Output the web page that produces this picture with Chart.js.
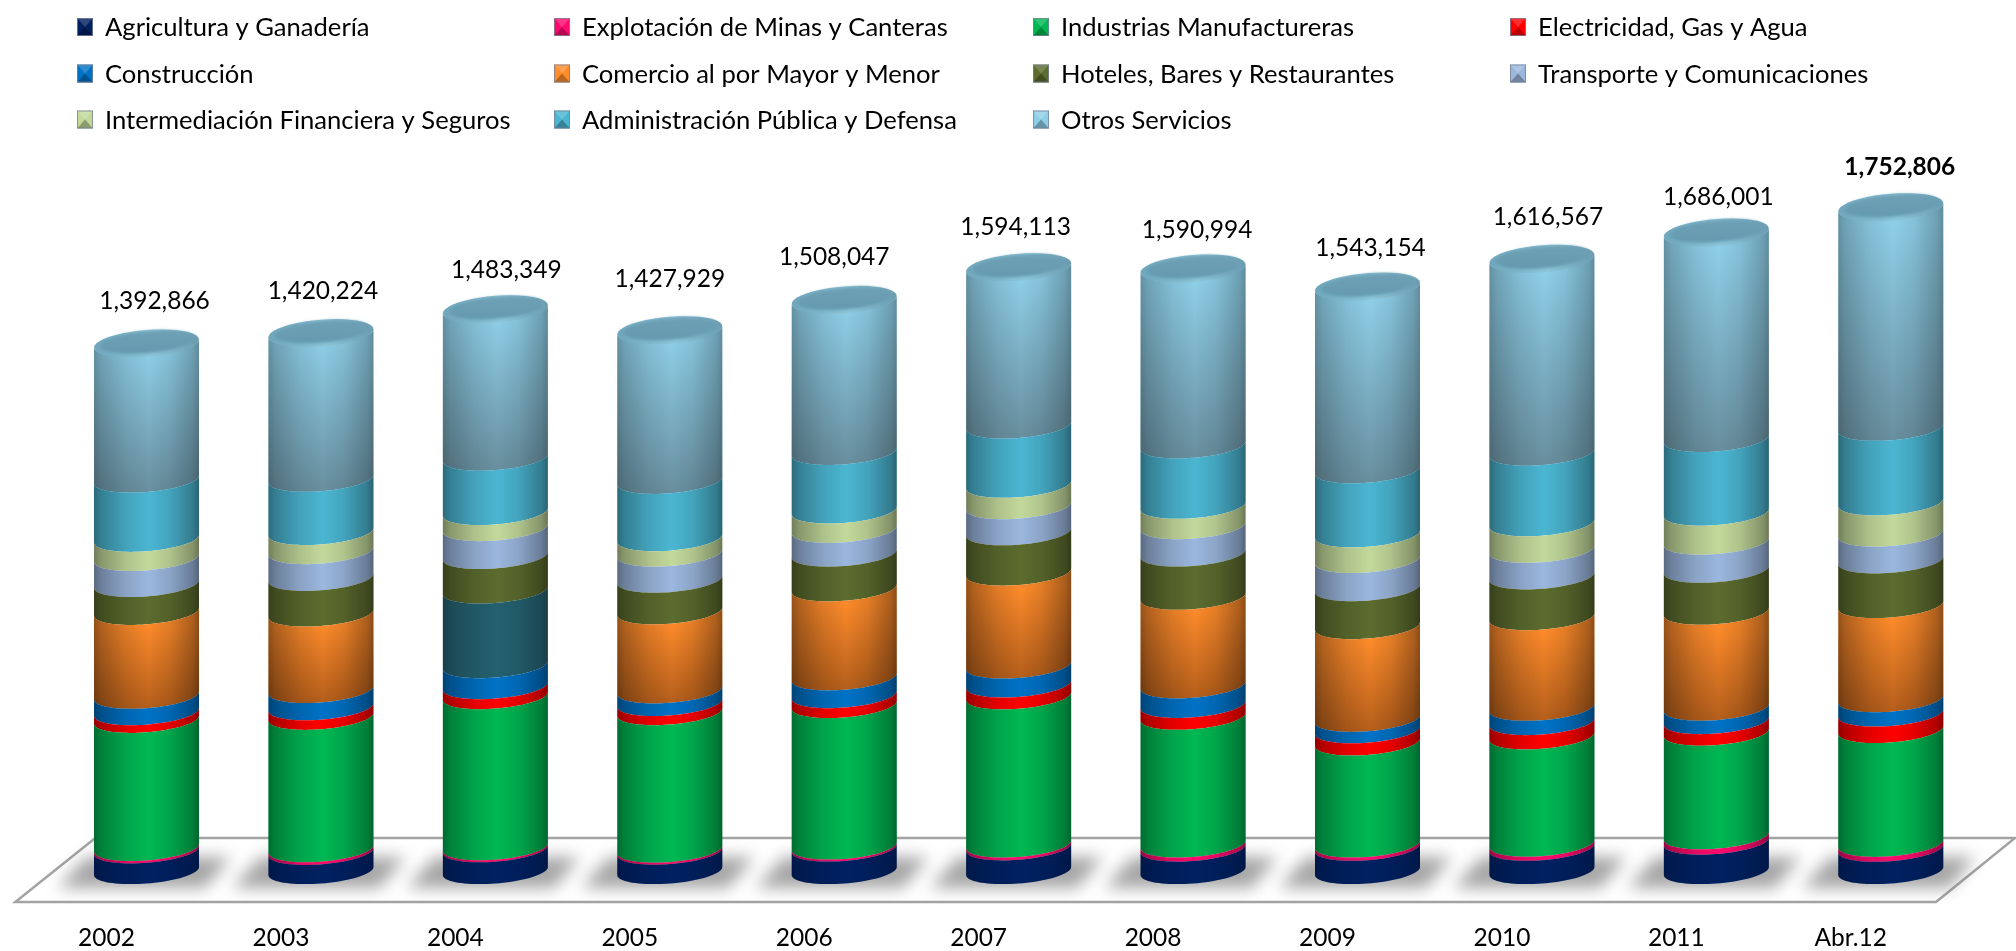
<!DOCTYPE html>
<html><head><meta charset="utf-8">
<style>html,body{margin:0;padding:0;background:#fff}#w{width:2016px;height:951px}</style>
<script src="https://cdn.jsdelivr.net/npm/chart.js@4/dist/chart.umd.js"></script>
</head><body><div id="w"><canvas id="c" width="2016" height="951"></canvas></div>
<script>
const categories=['2002','2003','2004','2005','2006','2007','2008','2009','2010','2011','Abr.12'];
const totals=[1392866,1420224,1483349,1427929,1508047,1594113,1590994,1543154,1616567,1686001,1752806];
const seriesNames=['Agricultura y Ganadería','Explotación de Minas y Canteras','Industrias Manufactureras','Electricidad, Gas y Agua','Construcción','Comercio al por Mayor y Menor','Hoteles, Bares y Restaurantes','Transporte y Comunicaciones','Intermediación Financiera y Seguros','Administración Pública y Defensa','Otros Servicios'];
const agricultura=[54600,50500,57600,51200,59500,62600,59300,61400,61400,77800,58900];
const minas=[6100,7100,5100,5200,5200,7300,10800,8600,10800,14100,13000];
const industrias=[338600,349700,399200,363300,373800,391500,337300,269500,283500,273500,300600];
const electricidad=[20200,25300,26300,24000,26100,31300,31300,32300,37700,30600,43600];
const construccion=[43500,45500,55600,33400,47000,50100,51700,30200,37700,35400,37700];
const comercio=[221300,202100,197100,208800,234900,245400,233900,244700,239300,253400,248700];
const hoteles=[73800,94000,91000,83500,91900,106500,114200,100200,107800,110800,117900];
const transporte=[68700,70700,73800,68900,62600,68900,72200,74400,70100,74300,70700];
const intermediacion=[50500,50500,42400,40700,51200,56400,53900,67900,70100,76600,82500];
const administracion=[156600,140500,143500,151400,154500,156600,159500,169200,186500,194500,196900];
const otros=[358966,384324,391749,397529,401347,417513,466894,484754,511667,545001,582306];
const seriesValues=[agricultura,minas,industrias,electricidad,construccion,comercio,hoteles,transporte,intermediacion,administracion,otros];
const seriesColors=['#002060','#FF0A6E','#00B853','#FF0000','#0072C6','#FF8C2B','#5C6C2E','#9BB7DE','#C3D99B','#4BB6D2','#8ECFE8'];
const comercioOverride='#24606F';
const labelNudgeX=[8,2,11,0,-10,-3,4,3,6,2,9];
const labelNudgeY=[-42.5,-42,-39,-51,-43,-40,-38.5,-39,-42,-35.5,-40];
const legendColX=[77,554,1033,1510], legendRowY=[28,74.5,120.5];
const FONT='Lato, Carlito, sans-serif';
const RY=12.5, TILT=4;

function rim(path,cx,hw,yc,from,to,first,ry,tilt){
  const n=40;
  for(let i=0;i<=n;i++){
    const a=from+(to-from)*i/n, x=cx+hw*Math.cos(a), y=yc+ry*Math.sin(a)-tilt*Math.cos(a);
    if(i===0&&first) path.moveTo(x,y); else path.lineTo(x,y);
  }
}
function edgeGrad(ctx,l,r,k){
  const g=ctx.createLinearGradient(l,0,r,0);
  g.addColorStop(0,`rgba(0,0,0,${.42*k})`);
  g.addColorStop(.07,`rgba(0,0,0,${.30*k})`);
  g.addColorStop(.3,`rgba(0,0,0,${.11*k})`);
  g.addColorStop(.52,'rgba(0,0,0,0)');
  g.addColorStop(.72,`rgba(0,0,0,${.10*k})`);
  g.addColorStop(.94,`rgba(0,0,0,${.32*k})`);
  g.addColorStop(1,`rgba(0,0,0,${.45*k})`);
  return g;
}
const barDraw=function(ctx){
  const {x,y,base,width}=this, hw=width/2, col=this.options.backgroundColor;
  const p=new Path2D();
  rim(p,x,hw,y,0,Math.PI,true,RY,TILT);
  rim(p,x,hw,base,Math.PI,0,false,RY,TILT);
  p.closePath();
  ctx.save();
  ctx.fillStyle=col; ctx.fill(p);
  const top=y-RY, bot=base+RY;
  if(col==='#FF8C2B'){
    const g=ctx.createLinearGradient(0,top,0,bot);
    g.addColorStop(0,'rgba(60,20,0,0)');g.addColorStop(.25,'rgba(60,20,0,0.02)');g.addColorStop(1,'rgba(60,20,0,0.38)');
    ctx.fillStyle=g;ctx.fill(p);
  }
  if(col==='#8ECFE8'){
    const g=ctx.createLinearGradient(0,top,0,bot);
    g.addColorStop(0,'rgba(90,118,130,0)');g.addColorStop(.12,'rgba(90,118,130,0)');g.addColorStop(1,'rgba(90,118,130,0.72)');
    ctx.fillStyle=g;ctx.fill(p);
  }
  const k=col==='#24606F'?.8:col==='#8ECFE8'?.72:col==='#002060'?.6:1;
  ctx.fillStyle=edgeGrad(ctx,x-hw,x+hw,k);ctx.fill(p);
  ctx.restore();
};
Chart.BarElement.prototype.draw=barDraw;

const furniture={
  id:'furniture',
  beforeDatasetsDraw(chart){
    const ctx=chart.ctx,sx=chart.scales.x,sy=chart.scales.y,y0=sy.getPixelForValue(0);
    const fy=y0+31,by=y0-33;
    ctx.save();
    ctx.beginPath();
    ctx.moveTo(sx.left-44,fy);ctx.lineTo(sx.right-42,fy);ctx.lineTo(sx.right+37,by);ctx.lineTo(sx.left+36,by);ctx.closePath();
    ctx.fillStyle='#fff';ctx.fill();
    ctx.strokeStyle='#A3A3A3';ctx.lineWidth=2.5;ctx.stroke();
    ctx.filter='blur(8px)';
    ctx.fillStyle='rgba(110,110,110,0.62)';
    chart.getDatasetMeta(0).data.forEach(b=>{
      const l=b.x-b.width/2,r=b.x+b.width/2;
      ctx.beginPath();
      ctx.moveTo(l-36,y0+17);ctx.lineTo(r+6,y0+17);ctx.lineTo(r+32,y0-14);ctx.lineTo(l-8,y0-14);ctx.closePath();
      ctx.fill();
    });
    ctx.restore();
  },
  afterDatasetsDraw(chart){
    const ctx=chart.ctx,sy=chart.scales.y,last=chart.data.datasets.length-1;
    chart.getDatasetMeta(last).data.forEach((b,i)=>{
      const hw=b.width/2;
      const o=new Path2D();rim(o,b.x,hw,b.y,0,2*Math.PI,true,RY+1,TILT);o.closePath();
      const g=ctx.createLinearGradient(b.x-hw,0,b.x+hw,0);
      g.addColorStop(0,'#6FA6BC');g.addColorStop(.55,'#8CC6DA');g.addColorStop(1,'#6B9DB1');
      ctx.fillStyle=g;ctx.fill(o);
      const n=new Path2D();rim(n,b.x+1,hw*.9,b.y-1.5,0,2*Math.PI,true,RY-1.5,TILT);n.closePath();
      const h=ctx.createLinearGradient(0,b.y-RY,0,b.y+RY);
      h.addColorStop(0,'#6FA0B5');h.addColorStop(1,'#6299AE');
      ctx.save();ctx.filter='blur(1.5px)';ctx.fillStyle=h;ctx.fill(n);ctx.restore();
      ctx.fillStyle='#000';ctx.textAlign='center';ctx.textBaseline='middle';
      ctx.font=(i===totals.length-1?'bold ':'')+'24.5px '+FONT;
      ctx.fillText(totals[i].toLocaleString('en-US'),b.x+labelNudgeX[i],sy.getPixelForValue(totals[i])+labelNudgeY[i]);
    });
  },
  afterDraw(chart){
    const ctx=chart.ctx;
    ctx.save();
    ctx.textAlign='left';ctx.textBaseline='middle';ctx.font='25.6px '+FONT;
    seriesNames.forEach((name,i)=>{
      const x=legendColX[i%4],y=legendRowY[Math.floor(i/4)],w=16,h=18,t=y-h/2-1,c=seriesColors[i];
      ctx.fillStyle=c;ctx.fillRect(x,t,w,h);
      ctx.fillStyle='rgba(0,0,0,.28)';
      ctx.beginPath();ctx.moveTo(x,t+h);ctx.lineTo(x+w/2,t+h*.5);ctx.lineTo(x+w,t+h);ctx.closePath();ctx.fill();
      ctx.fillStyle='rgba(255,255,255,.18)';
      ctx.beginPath();ctx.moveTo(x,t);ctx.lineTo(x+w/2,t+h*.5);ctx.lineTo(x+w,t);ctx.closePath();ctx.fill();
      ctx.strokeStyle='rgba(120,130,150,.8)';ctx.lineWidth=1;ctx.strokeRect(x+.5,t+.5,w-1,h-1);
      ctx.fillStyle='#000';ctx.fillText(name,x+28,y);
    });
    ctx.restore();
  }
};

new Chart(document.getElementById('c'),{
  type:'bar',
  data:{labels:categories,datasets:seriesNames.map((n,i)=>({
    label:n,data:seriesValues[i],clip:false,
    backgroundColor:i===5?(c=>c.dataIndex===2?comercioOverride:seriesColors[5]):seriesColors[i],
    borderWidth:0,categoryPercentage:.602,barPercentage:1
  }))},
  options:{
    responsive:false,animation:false,
    layout:{padding:{left:59.3,right:38,top:0,bottom:0}},
    plugins:{legend:{display:false},tooltip:{enabled:false},title:{display:false}},
    scales:{
      x:{stacked:true,grid:{display:false,drawTicks:false},border:{display:false},
        afterFit(s){s.height=80;},
        ticks:{labelOffset:-40,padding:52,color:'#000',font:{family:FONT,size:24.5},maxRotation:0,autoSkip:false}},
      y:{stacked:true,display:false,min:0,max:2300000}
    }
  },
  plugins:[furniture]
});
</script></body></html>
